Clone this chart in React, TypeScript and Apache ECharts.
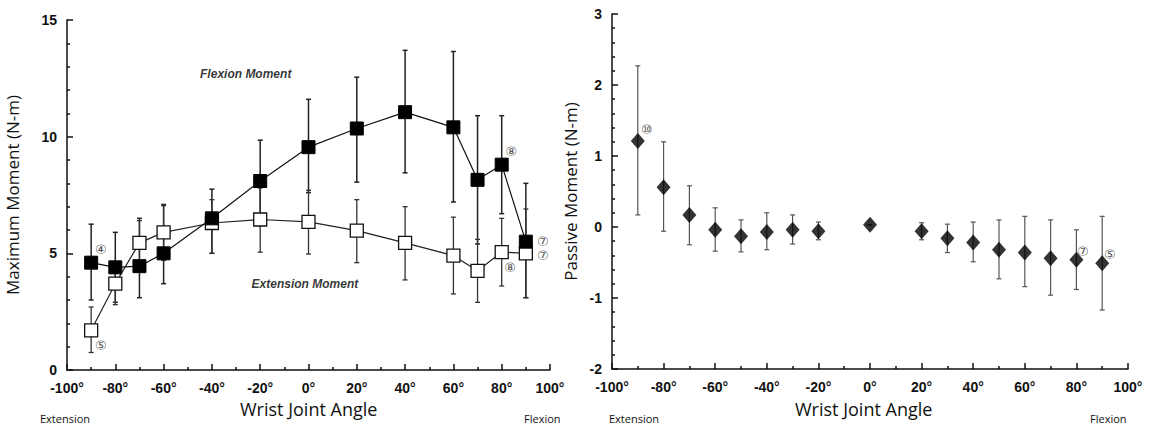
import React, { useEffect, useRef } from "react";
import * as echarts from "echarts";

// Left chart: maximum moment
const anglesL = [-90, -80, -70, -60, -40, -20, 0, 20, 40, 60, 70, 80, 90];
const flexion = [4.6, 4.4, 4.45, 5.0, 6.5, 8.1, 9.55, 10.35, 11.05, 10.4, 8.15, 8.8, 5.5];
const flexionLo = [3.0, 2.9, 3.1, 3.7, 5.0, 6.5, 7.6, 8.05, 8.45, 7.2, 5.4, 6.7, 3.1];
const flexionHi = [6.25, 5.9, 6.5, 7.05, 7.75, 9.85, 11.6, 12.55, 13.7, 13.65, 10.9, 10.9, 8.0];
const extension = [1.7, 3.7, 5.45, 5.9, 6.3, 6.45, 6.35, 5.97, 5.45, 4.9, 4.25, 5.05, 5.0];
const extensionLo = [0.75, 2.8, 4.5, 4.7, 5.0, 5.05, 4.97, 4.6, 3.86, 3.26, 2.9, 3.6, 3.1];
const extensionHi = [2.7, 4.6, 6.4, 7.1, 7.3, 7.8, 7.7, 7.3, 7.0, 6.55, 5.6, 6.5, 6.9];
const annotL: [number, number, string][] = [
  [-86, 5.15, "④"],
  [-86, 1.05, "⑤"],
  [84, 9.35, "⑧"],
  [83.5, 4.4, "⑧"],
  [97, 5.5, "⑦"],
  [97, 4.9, "⑦"],
];
const seriesTextsL: [number, number, string][] = [
  [-26, 12.7, "Flexion Moment"],
  [-1.5, 3.7, "Extension Moment"],
];

// Right chart: passive moment
const anglesR = [-90, -80, -70, -60, -50, -40, -30, -20, 0, 20, 30, 40, 50, 60, 70, 80, 90];
const passive = [1.21, 0.56, 0.17, -0.04, -0.13, -0.07, -0.04, -0.06, 0.03, -0.06, -0.16, -0.22, -0.32, -0.36, -0.44, -0.46, -0.51];
const passiveLo = [0.17, -0.06, -0.25, -0.34, -0.35, -0.32, -0.24, -0.18, 0.03, -0.18, -0.36, -0.49, -0.73, -0.84, -0.96, -0.88, -1.17];
const passiveHi = [2.27, 1.2, 0.58, 0.27, 0.1, 0.2, 0.17, 0.07, 0.03, 0.06, 0.04, 0.07, 0.1, 0.15, 0.1, -0.04, 0.15];
const annotR: [number, number, string][] = [
  [-86.5, 1.37, "⑩"],
  [82.5, -0.35, "⑦"],
  [93, -0.39, "⑤"],
];

const xTicks = [-100, -80, -60, -40, -20, 0, 20, 40, 60, 80, 100];

const tickFont = { fontFamily: "Liberation Sans, Arial, sans-serif", fontWeight: "bold" as const, fontSize: 14, color: "#111" };

function errorSeries(xAxisIndex: number, xs: number[], lo: number[], hi: number[], color: string, width: number) {
  return {
    type: "custom",
    xAxisIndex,
    yAxisIndex: xAxisIndex,
    z: 1,
    data: xs.map((x, i) => [x, lo[i], hi[i]]),
    renderItem: (params: any, api: any) => {
      const x = api.value(0);
      const p1 = api.coord([x, api.value(1)]);
      const p2 = api.coord([x, api.value(2)]);
      const c = 2.5;
      const style = { stroke: color, lineWidth: width };
      return {
        type: "group",
        children: [
          { type: "line", shape: { x1: p1[0], y1: p1[1], x2: p2[0], y2: p2[1] }, style },
          { type: "line", shape: { x1: p1[0] - c, y1: p1[1], x2: p1[0] + c, y2: p1[1] }, style },
          { type: "line", shape: { x1: p2[0] - c, y1: p2[1], x2: p2[0] + c, y2: p2[1] }, style },
        ],
      };
    },
  };
}

function textSeries(idx: number, items: [number, number, string][], font: any) {
  return {
    type: "scatter",
    xAxisIndex: idx,
    yAxisIndex: idx,
    symbolSize: 0,
    z: 5,
    silent: true,
    data: items.map((d) => ({ value: [d[0], d[1]], name: d[2] })),
    label: { show: true, position: "inside", formatter: (p: any) => p.name, ...font },
  };
}

function xAxis(gridIndex: number) {
  return {
    type: "value",
    gridIndex,
    min: -100,
    max: 100,
    interval: 20,
    axisLine: { onZero: false, lineStyle: { color: "#111", width: 1.5 } },
    axisTick: { inside: true, length: 6, lineStyle: { color: "#111", width: 1.5 } },
    minorTick: { show: true, splitNumber: 2, length: 3, lineStyle: { color: "#111", width: 1.5 } },
    splitLine: { show: false },
    axisLabel: { ...tickFont, margin: 11, formatter: (v: number) => (xTicks.includes(v) ? v + "°" : "") },
  };
}

function yAxis(gridIndex: number, min: number, max: number, interval: number, name: string, nameGap: number) {
  return {
    type: "value",
    gridIndex,
    min,
    max,
    interval,
    axisLine: { show: true, onZero: false, lineStyle: { color: "#111", width: 1.5 } },
    axisTick: { show: true, inside: true, length: 6, lineStyle: { color: "#111", width: 1.5 } },
    minorTick: { show: true, splitNumber: 5, length: 3, lineStyle: { color: "#111", width: 1.5 } },
    splitLine: { show: false },
    axisLabel: { ...tickFont, margin: 10 },
    name,
    nameLocation: "middle",
    nameGap,
    nameTextStyle: { fontFamily: "Open Sans, sans-serif", fontSize: 17, color: "#111" },
  };
}

export default function App() {
  const ref = useRef<HTMLDivElement>(null);
  useEffect(() => {
    document.body.style.margin = "0";
    const chart = echarts.init(ref.current!, null, { renderer: "svg" });
    const circled = { fontSize: 13, color: "#222", fontFamily: "DejaVu Sans, sans-serif" };
    const option: any = {
      animation: false,
      backgroundColor: "#fff",
      grid: [
        { left: 67, top: 20, width: 483, height: 350 },
        { left: 612, top: 14, width: 516, height: 355 },
      ],
      xAxis: [xAxis(0), xAxis(1)],
      yAxis: [
        yAxis(0, 0, 15, 5, "Maximum Moment (N-m)", 46),
        yAxis(1, -2, 3, 1, "Passive Moment (N-m)", 33),
      ],
      series: [
        errorSeries(0, anglesL, flexionLo, flexionHi, "#222", 1.5),
        errorSeries(0, anglesL, extensionLo, extensionHi, "#333", 1.3),
        {
          type: "line",
          xAxisIndex: 0,
          yAxisIndex: 0,
          z: 3,
          data: anglesL.map((x, i) => [x, extension[i]]),
          symbol: "rect",
          symbolSize: 13,
          lineStyle: { color: "#222", width: 1.2 },
          itemStyle: { color: "#fff", borderColor: "#111", borderWidth: 1.3 },
        },
        {
          type: "line",
          xAxisIndex: 0,
          yAxisIndex: 0,
          z: 4,
          data: anglesL.map((x, i) => [x, flexion[i]]),
          symbol: "rect",
          symbolSize: 13,
          lineStyle: { color: "#111", width: 1.2 },
          itemStyle: { color: "#000", borderColor: "#000", borderWidth: 1 },
        },
        textSeries(0, annotL, circled),
        textSeries(0, seriesTextsL, { fontSize: 12, color: "#000", fontStyle: "italic", fontWeight: "bold", fontFamily: "Liberation Sans, Arial, sans-serif" }),
        errorSeries(1, anglesR, passiveLo, passiveHi, "#555", 1.2),
        {
          type: "scatter",
          xAxisIndex: 1,
          yAxisIndex: 1,
          z: 4,
          data: anglesR.map((x, i) => [x, passive[i]]),
          symbol: "diamond",
          symbolSize: [14, 16],
          itemStyle: { color: "#000" },
        },
        textSeries(1, annotR, circled),
      ],
      graphic: [
        { type: "text", left: 240, top: 400, style: { text: "Wrist Joint Angle", font: "18px 'Open Sans', sans-serif", fill: "#111" } },
        { type: "text", left: 795, top: 400, style: { text: "Wrist Joint Angle", font: "18px 'Open Sans', sans-serif", fill: "#111" } },
        { type: "text", left: 40, top: 413, style: { text: "Extension", font: "11px 'Open Sans', sans-serif", fill: "#111" } },
        { type: "text", left: 524, top: 413, style: { text: "Flexion", font: "11px 'Open Sans', sans-serif", fill: "#111" } },
        { type: "text", left: 609, top: 413, style: { text: "Extension", font: "11px 'Open Sans', sans-serif", fill: "#111" } },
        { type: "text", left: 1090, top: 413, style: { text: "Flexion", font: "11px 'Open Sans', sans-serif", fill: "#111" } },
      ],
    };
    chart.setOption(option);
    return () => chart.dispose();
  }, []);
  return <div ref={ref} style={{ width: 1156, height: 432 }} />;
}
